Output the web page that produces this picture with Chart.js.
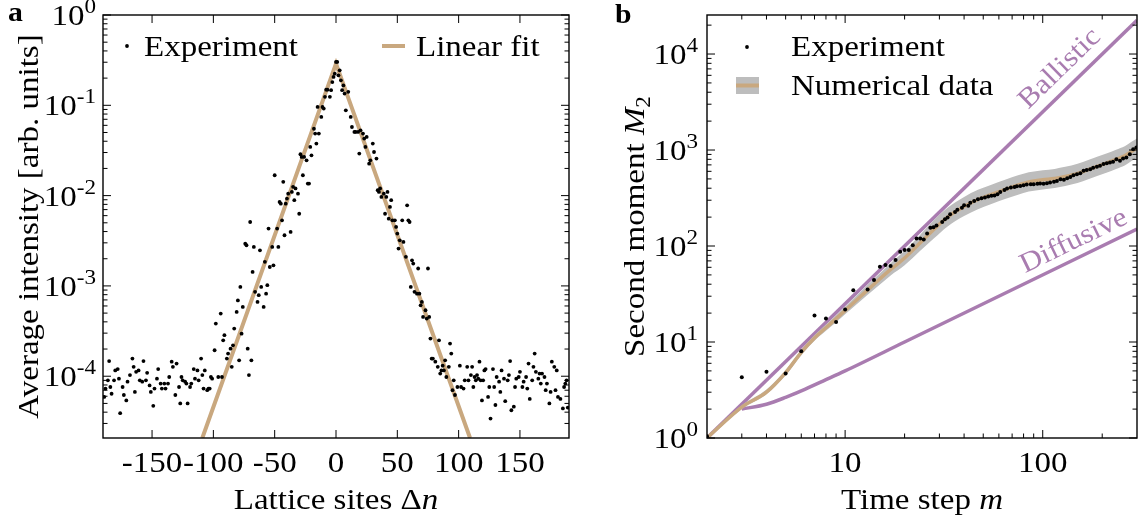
<!DOCTYPE html>
<html>
<head>
<meta charset="utf-8">
<script src="https://cdn.jsdelivr.net/npm/chart.js@4.4.0/dist/chart.umd.min.js"></script>
<style>
  html, body { margin: 0; padding: 0; background: #fff; }
  #wrap { position: relative; width: 1141px; height: 519px; overflow: hidden; }
  canvas { position: absolute; top: 0; }
  #panelA { left: 0; }
  #panelB { left: 575px; }
</style>
</head>
<body>
<div id="wrap">
  <canvas id="panelA" width="575" height="519"></canvas>
  <canvas id="panelB" width="566" height="519"></canvas>
</div>
<script>
// ---- panel a: average intensity vs lattice site ----
const latticeSites = [
  -189,-188,-186,-185,-184,-183,-181,-180,-178,-177,-176,-174,-173,-171,-170,-168,-166,-165,-164,-163,
  -161,-160,-158,-157,-155,-154,-152,-151,-149,-148,-146,-145,-143,-142,-140,-139,-137,-136,-134,-133,
  -131,-130,-128,-127,-126,-125,-123,-122,-121,-119,-118,-116,-115,-113,-112,-110,-109,-108,-107,-105,
  -104,-103,
  -102,-101,-99,-98,-96,-94,-93,-92,-91,-89,-88,-86,-85,-84,-83,-81,-80,-79,-78,-77,
  -76,-74,-73,-72,-71,-70,-69,-68,-67,-66,-64,-63,-62,-61,-59,-58,-57,-56,-55,-54,
  -52,-51,-50,-48,-47,-46,-45,-44,-43,-42,-41,-40,-39,-37,-36,-35,-34,-33,-31,-30,
  -29,-28,-27,-26,-24,-23,-22,-21,-20,-18,-17,-16,-15,-14,-12,-11,-10,-9,-8,-7,
  -5,-4,-3,-2,-1,0,1,
  2,3,4,5,6,7,8,10,12,13,15,16,18,19,20,22,23,24,25,27,
  28,30,31,33,34,35,36,37,39,40,41,42,43,44,45,46,48,49,50,51,
  52,54,55,57,58,59,60,61,62,63,64,66,67,68,69,70,71,73,74,75,
  76,77,78,79,81,83,84,85,86,87,88,89,90,92,93,94,95,96,97,99,
  101,102,104,105,107,108,110,111,112,
  113,114,115,116,117,118,119,120,121,122,124,125,126,128,129,130,131,133,134,135,
  137,138,140,141,142,143,145,146,147,149,150,152,153,155,156,157,158,160,161,162,
  163,165,166,167,168,170,171,172,174,175,176,178,179,180,181,183,185,186,187,188,
  189
];
const intensity = [
  5.9e-5,7.3e-5,9.0e-5,1.47e-4,7.6e-5,6.4e-5,9.0e-5,1.16e-4,1.2e-4,9.4e-5,3.9e-5,7.6e-5,6.2e-5,5.4e-5,8.7e-5,1.03e-4,1.57e-4,1.27e-4,6.7e-5,1.12e-4,
  1.16e-4,9.0e-5,8.7e-5,1.47e-4,9.0e-5,1.09e-4,7.9e-5,6.7e-5,4.7e-5,7.3e-5,9.4e-5,1.2e-4,8.3e-5,7.3e-5,8.3e-5,7.3e-5,8.3e-5,9.8e-5,1.45e-4,1.27e-4,
  6.2e-5,1.38e-4,7.6e-5,5.0e-5,9.8e-5,9.0e-5,8.7e-5,8.3e-5,5.0e-5,7.6e-5,8.3e-5,1.2e-4,9.4e-5,1.16e-4,9.0e-5,1.57e-4,1.03e-4,7.3e-5,1.16e-4,7.0e-5,
  7.3e-5,7.3e-5,
  9.8e-5,9.4e-5,1.94e-4,3.83e-4,9.8e-5,4.94e-4,9.8e-5,2.5e-4,2.85e-4,1.57e-4,1.78e-4,2.02e-4,1.27e-4,2.2e-4,3.37e-4,5.15e-4,6.9e-4,1.5e-4,9.75e-4,2.96e-4,
  5.86e-4,2.94e-3,2.82e-3,2.02e-4,1.03e-4,5.1e-3,1.5e-4,1.43e-3,2.7e-3,8.6e-4,6.65e-4,7.9e-4,2.48e-3,9.75e-4,5.86e-4,1.85e-3,8.2e-4,1.02e-3,4.31e-3,1.62e-3,
  2.7e-3,1.69e-3,1.68e-2,4.31e-3,2.7e-3,8.5e-3,8.15e-3,5.33e-3,1.42e-2,3.64e-3,8.15e-3,9.27e-3,1.05e-2,3.96e-3,1.1e-2,1.25e-2,8.9e-3,1.2e-2,1.05e-2,6.3e-3,
  2.87e-2,2.68e-2,1.68e-2,2.68e-2,2.46e-2,1.36e-2,1.36e-2,3.46e-2,2.79e-2,5.5e-2,4.86e-2,3.77e-2,9.6e-2,4.86e-2,7.43e-2,9.6e-2,9.2e-2,0.124,0.149,0.149,
  0.124,0.147,0.181,0.206,0.224,0.302,0.302,
  0.215,0.244,0.189,0.147,0.166,0.135,8.8e-2,0.141,7.43e-2,5.75e-2,5.07e-2,5.07e-2,5.07e-2,2.92e-2,5.29e-2,4.86e-2,4.28e-2,3.46e-2,4.46e-2,2.26e-2,
  2.46e-2,3.77e-2,3.04e-2,2.57e-2,1.15e-2,1.1e-2,1.2e-2,9.67e-3,1.05e-2,6.3e-3,9.67e-3,1.1e-2,5.56e-3,7.5e-3,8.9e-3,5.33e-3,5.33e-3,4.5e-3,3.8e-3,2.59e-3,
  3.2e-3,5.33e-3,3.07e-3,2.1e-3,7.8e-3,5.33e-3,5.1e-3,9.75e-4,1.92e-3,1.77e-3,8.6e-4,8.2e-4,1.56e-3,8.2e-4,6.1e-4,6.65e-4,4.54e-4,5.38e-4,4.35e-4,1.56e-3,
  4.54e-4,2.61e-4,1.57e-4,1.57e-4,1.45e-4,1.27e-4,2.5e-4,1.07e-4,1.16e-4,1.31e-4,1.16e-4,1.5e-4,9.8e-5,1.27e-4,2.3e-4,1.78e-4,7.0e-5,9.0e-5,6.2e-5,7.6e-5,
  1.31e-4,7.6e-5,7.3e-5,9.0e-5,1.27e-4,9.0e-5,1.03e-4,1.27e-4,7.6e-5,
  9.8e-5,9.0e-5,1.03e-4,9.4e-5,1.45e-4,9.0e-5,5.4e-5,9.0e-5,1.16e-4,1.2e-4,5.9e-5,7.6e-5,3.4e-5,1.2e-4,7.6e-5,4.8e-5,9.8e-5,8.7e-5,6.7e-5,1.16e-4,
  9.4e-5,5.3e-5,9.0e-5,1.03e-4,1.47e-4,4.2e-5,4.6e-5,7.6e-5,9.4e-5,9.8e-5,1.12e-4,7.6e-5,8.7e-5,9.8e-5,7.3e-5,1.38e-4,5.6e-5,9.0e-5,1.27e-4,1.78e-4,
  1.12e-4,9.4e-5,1.07e-4,8.3e-5,1.07e-4,9.8e-5,7.0e-5,8.3e-5,5.0e-5,6.7e-5,1.45e-4,1.27e-4,7.0e-5,1.16e-4,5.9e-5,5.6e-5,4.4e-5,7.6e-5,8.3e-5,9.0e-5,
  4.5e-5
];
const fitSites = [-109, 0, 109.3];
const fitIntensity = [2.07e-5, 0.289, 2.07e-5];
const siteTicks = [-150, -100, -50, 0, 50, 100, 150];
const intensityDecades = [-4, -3, -2, -1, 0];

// ---- panel b: second moment vs time step ----
const expSteps = [2,3,4,5,6,7,8,9,10,11,13,14,15,16,17,18,19,20,21,22,23,24,25,26,
  27,28,29,31,32,33,34,36,37,39,40,42,43,45,47,49,51,53,55,57,59,61,64,66,69,72,74,77,80,83,87,90,94,97,
  101,105,109,114,118,123,128,133,138,143,149,155,161,167,174,180,188,195,203,211,219,227,236,246,255,265,276,287,298];
const expM2 = [1.04,4.3,4.9,4.7,8.0,18.9,17.6,16.2,21.8,34.7,35.3,44.2,60.9,63.4,61.8,71.4,87.3,90.8,90.8,102,120,120,117,135,
  155,157,164,178,190,198,214,226,238,251,266,262,283,295,307,315,320,327,333,335,346,366,384,397,406,413,420,423,430,437,440,441,444,448,
  446,451,458,466,477,496,490,508,525,547,560,574,607,621,631,652,668,684,713,729,741,753,803,771,817,836,906,1021,1062];
const numSteps = [2,3,4,5,6,7,8,9,10,12,14,17,20,24,28,33,40,47,55,65,75,85,100,115,130,150,170,190,210,235,260,280,300];
const numM2 = [1.0,2.1,3.0,4.8,7.8,11,14.1,17.5,21.3,30,40,57,75,108,148,200,258,305,345,390,432,465,490,505,530,570,625,680,730,800,870,960,1050];
const numUpper = [1.02,2.2,3.2,5.1,8.3,11.8,15.2,19,23.3,33.5,45.5,66,89,131,184,250,325,385,435,492,545,586,617,636,668,718,788,857,920,1008,1095,1210,1320];
const numLower = [0.98,2.0,2.85,4.5,7.3,10.3,13.1,16.1,19.5,26.9,35.2,49.3,63,89,119,160,205,242,274,310,343,369,389,401,421,452,496,540,579,635,690,762,833];
const ballisticSteps = [2, 300];
const ballisticM2 = [1, 22500];
const diffusiveSteps = [3, 4, 5, 6, 8, 10, 20, 300];
const diffusiveM2 = [2, 2.25, 2.65, 3.1, 4.05, 5, 10, 150];
const stepTicks = [10, 100];
const momentDecades = [0, 1, 2, 3, 4];

const TAN = '#c9a87f';
const PURPLE = '#a97cb0';
const BAND = '#bdbdbd';
const FAM = '"Liberation Serif", "DejaVu Serif", serif';
const F = '30px ' + FAM;
const FI = 'italic 30px ' + FAM;
const FSUP = '21px ' + FAM;
const SX = 1.1; // widen text a little, closer to the original serif

function pts(xs, ys) { return xs.map((v, i) => ({ x: v, y: ys[i] })); }

// draws a list of [text, font, dy] pieces, stretched horizontally
function rich(ctx, parts, x, y, align, angle) {
  ctx.save();
  ctx.translate(x, y);
  if (angle) ctx.rotate(angle);
  ctx.scale(SX, 1);
  ctx.textAlign = 'left';
  ctx.textBaseline = 'alphabetic';
  let w = 0;
  parts.forEach(p => { ctx.font = p[1]; w += ctx.measureText(p[0]).width; });
  let cx = align === 'center' ? -w / 2 : align === 'right' ? -w : 0;
  parts.forEach(p => {
    ctx.font = p[1];
    ctx.fillText(p[0], cx, p[2] || 0);
    cx += ctx.measureText(p[0]).width;
  });
  ctx.restore();
}

function line(ctx, x1, y1, x2, y2) {
  ctx.beginPath(); ctx.moveTo(x1, y1); ctx.lineTo(x2, y2); ctx.stroke();
}

function logMinors(lo, hi) {
  const out = [];
  for (let e = Math.floor(Math.log10(lo)) - 1; e <= Math.ceil(Math.log10(hi)); e++) {
    for (let k = 2; k <= 9; k++) {
      const v = k * Math.pow(10, e);
      if (v > lo && v < hi) out.push(v);
    }
  }
  return out;
}

function yDecadeLabels(ctx, a, y, decades, xRight) {
  decades.forEach(e => {
    const py = y.getPixelForValue(Math.pow(10, e));
    rich(ctx, [['10', F, 0], [String(e), FSUP, -12]], xRight, py + 10, 'right');
  });
}

function frameTicks(ctx, a, x, y, xMajor, xMinor) {
  ctx.strokeStyle = '#000';
  ctx.lineWidth = 1;
  const maj = 8, mnr = 4.5;
  logMinors(y.min, y.max).forEach(v => {
    const py = y.getPixelForValue(v);
    line(ctx, a.left, py, a.left + mnr, py);
    line(ctx, a.right, py, a.right - mnr, py);
  });
  for (let e = -6; e <= 6; e++) {
    const v = Math.pow(10, e);
    if (v < y.min || v > y.max) continue;
    const py = y.getPixelForValue(v);
    line(ctx, a.left, py, a.left + maj, py);
    line(ctx, a.right, py, a.right - maj, py);
  }
  xMinor.forEach(v => {
    const px = x.getPixelForValue(v);
    line(ctx, px, a.bottom, px, a.bottom - mnr);
    line(ctx, px, a.top, px, a.top + mnr);
  });
  xMajor.forEach(v => {
    const px = x.getPixelForValue(v);
    line(ctx, px, a.bottom, px, a.bottom - maj);
    line(ctx, px, a.top, px, a.top + maj);
  });
  ctx.lineWidth = 1.4;
  ctx.strokeRect(a.left, a.top, a.right - a.left, a.bottom - a.top);
}

const decorA = {
  id: 'decorA',
  afterDraw(chart) {
    const { ctx, chartArea: a, scales: { x, y } } = chart;
    ctx.save();
    ctx.fillStyle = '#000';
    frameTicks(ctx, a, x, y, siteTicks, []);
    siteTicks.forEach(v => {
      rich(ctx, [[String(v), F, 0]], x.getPixelForValue(v), a.bottom + 34, 'center');
    });
    yDecadeLabels(ctx, a, y, intensityDecades, a.left - 7);
    rich(ctx, [['Lattice sites \u0394', F, 0], ['n', FI, 0]], (a.left + a.right) / 2, 509, 'center');
    rich(ctx, [['Average intensity [arb. units]', F, 0]], 38, (a.top + a.bottom) / 2, 'center', -Math.PI / 2);
    // legend
    ctx.beginPath(); ctx.arc(127, 46, 1.9, 0, Math.PI * 2); ctx.fill();
    rich(ctx, [['Experiment', F, 0]], 144, 56, 'left');
    ctx.strokeStyle = TAN; ctx.lineWidth = 4;
    line(ctx, 382, 46, 405, 46);
    rich(ctx, [['Linear fit', F, 0]], 416, 56, 'left');
    rich(ctx, [['a', 'bold 27px ' + FAM, 0]], 8, 21, 'left');
    ctx.restore();
  }
};

const decorB = {
  id: 'decorB',
  afterDraw(chart) {
    const { ctx, chartArea: a, scales: { x, y } } = chart;
    ctx.save();
    ctx.fillStyle = '#000';
    frameTicks(ctx, a, x, y, stepTicks, logMinors(x.min, x.max));
    stepTicks.forEach(v => {
      rich(ctx, [[String(v), F, 0]], x.getPixelForValue(v), a.bottom + 34, 'center');
    });
    yDecadeLabels(ctx, a, y, momentDecades, a.left - 9);
    rich(ctx, [['Time step ', F, 0], ['m', FI, 0]], (a.left + a.right) / 2, 509, 'center');
    rich(ctx, [['Second moment ', F, 0], ['M', FI, 0], ['2', FSUP, 6]], 69, (a.top + a.bottom) / 2, 'center', -Math.PI / 2);
    // legend
    ctx.beginPath(); ctx.arc(172, 47, 1.9, 0, Math.PI * 2); ctx.fill();
    rich(ctx, [['Experiment', F, 0]], 216, 56, 'left');
    ctx.fillStyle = BAND; ctx.fillRect(161, 77, 23, 17);
    ctx.strokeStyle = TAN; ctx.lineWidth = 4;
    line(ctx, 161, 85.5, 184, 85.5);
    ctx.fillStyle = '#000';
    rich(ctx, [['Numerical data', F, 0]], 216, 95, 'left');
    // line labels
    ctx.fillStyle = PURPLE;
    const b1 = [x.getPixelForValue(ballisticSteps[0]), y.getPixelForValue(ballisticM2[0])];
    const b2 = [x.getPixelForValue(ballisticSteps[1]), y.getPixelForValue(ballisticM2[1])];
    rich(ctx, [['Ballistic', '28px ' + FAM, 0]], 490, 74, 'center', Math.atan2(b2[1] - b1[1], b2[0] - b1[0]));
    const d1 = [x.getPixelForValue(10), y.getPixelForValue(5)];
    const d2 = [x.getPixelForValue(300), y.getPixelForValue(150)];
    rich(ctx, [['Diffusive', '28px ' + FAM, 0]], 502, 248, 'center', Math.atan2(d2[1] - d1[1], d2[0] - d1[0]));
    ctx.fillStyle = '#000';
    rich(ctx, [['b', 'bold 27px ' + FAM, 0]], 40, 23, 'left');
    ctx.restore();
  }
};

const common = {
  responsive: false,
  animation: false,
  events: [],
  plugins: { legend: { display: false }, tooltip: { enabled: false } }
};

new Chart(document.getElementById('panelA'), {
  type: 'scatter',
  data: {
    datasets: [
      { label: 'Experiment', data: pts(latticeSites, intensity), pointRadius: 1.9, pointBorderWidth: 0,
        pointBackgroundColor: '#000', order: 0 },
      { label: 'Linear fit', data: pts(fitSites, fitIntensity), showLine: true, borderColor: TAN,
        borderWidth: 4, pointRadius: 0, order: 1 }
    ]
  },
  options: Object.assign({}, common, {
    layout: { padding: { left: 103, right: 6, top: 15, bottom: 81 } },
    scales: {
      x: { type: 'linear', min: -190, max: 190, display: false },
      y: { type: 'logarithmic', min: 2.07e-5, max: 1, display: false }
    }
  }),
  plugins: [decorA]
});

new Chart(document.getElementById('panelB'), {
  type: 'scatter',
  data: {
    datasets: [
      { label: 'Experiment', data: pts(expSteps, expM2), pointRadius: 2, pointBorderWidth: 0,
        pointBackgroundColor: '#000', order: 0 },
      { label: 'Numerical data', data: pts(numSteps, numM2), showLine: true, borderColor: TAN, borderWidth: 3.5,
        pointRadius: 0, cubicInterpolationMode: 'monotone', order: 1 },
      { label: 'upper', data: pts(numSteps, numUpper), showLine: true, borderWidth: 0, borderColor: 'rgba(0,0,0,0)',
        pointRadius: 0, cubicInterpolationMode: 'monotone', fill: false, order: 2 },
      { label: 'lower', data: pts(numSteps, numLower), showLine: true, borderWidth: 0, borderColor: 'rgba(0,0,0,0)',
        pointRadius: 0, cubicInterpolationMode: 'monotone', fill: '-1', backgroundColor: BAND, order: 3 },
      { label: 'Ballistic', data: pts(ballisticSteps, ballisticM2), showLine: true, borderColor: PURPLE,
        borderWidth: 3.5, pointRadius: 0, order: 4 },
      { label: 'Diffusive', data: pts(diffusiveSteps, diffusiveM2), showLine: true, borderColor: PURPLE,
        borderWidth: 3.5, pointRadius: 0, cubicInterpolationMode: 'monotone', order: 5 }
    ]
  },
  options: Object.assign({}, common, {
    layout: { padding: { left: 132, right: 1, top: 15, bottom: 81 } },
    scales: {
      x: { type: 'logarithmic', min: 2, max: 300, display: false },
      y: { type: 'logarithmic', min: 1, max: 25500, display: false }
    }
  }),
  plugins: [decorB]
});
</script>
</body>
</html>
